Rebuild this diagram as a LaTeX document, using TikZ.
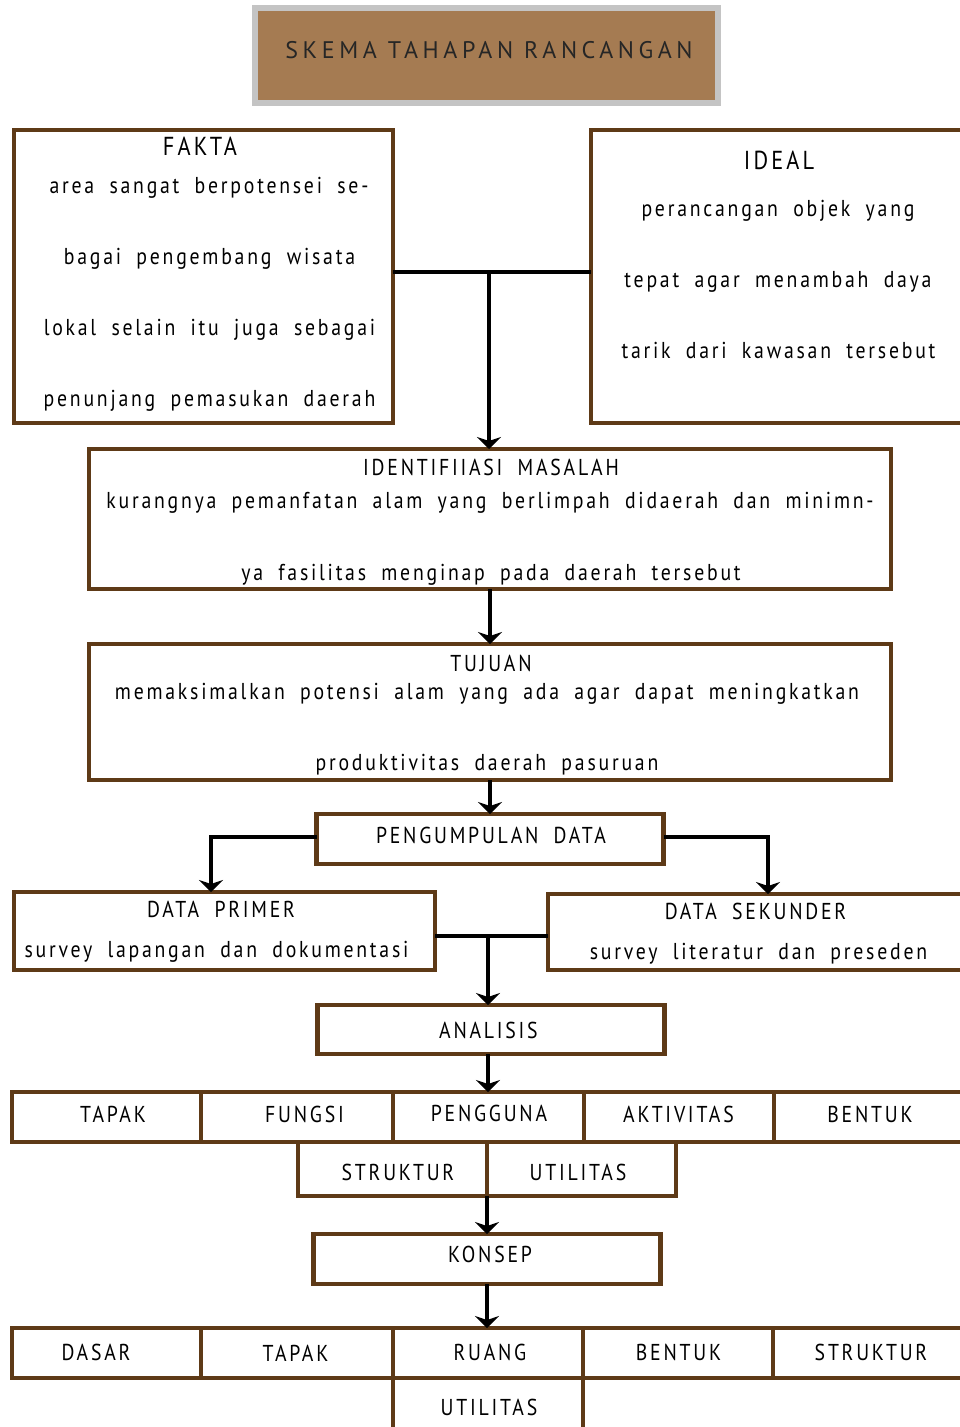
\documentclass[tikz,border=0pt]{standalone}
\usepackage{fontspec}
\setmainfont{PT Sans}[LetterSpace=12, FakeStretch=0.86, WordSpace=1.9]
\newfontfamily\titlefnt{PT Sans}[LetterSpace=19]
\usetikzlibrary{arrows.meta}
\definecolor{brownline}{HTML}{5E3A17}
\definecolor{titlefill}{HTML}{A57B52}
\definecolor{titlegray}{HTML}{C4C4C4}
\tikzset{
  box/.style={draw=brownline, line width=4.5pt, fill=white, inner sep=0pt, outer sep=0pt},
  txt/.style={anchor=base, inner sep=0pt, font=\fontsize{23}{27}\selectfont},
  bigtxt/.style={anchor=base, inner sep=0pt, font=\fontsize{26}{30}\selectfont},
  conn/.style={draw=black, line width=3.5pt},
  arr/.style={conn, -{Stealth[length=12pt,width=24pt,inset=4pt]}},
}
\begin{document}
\begin{tikzpicture}[x=1pt,y=-1pt]
\useasboundingbox (0,0) rectangle (960,1427);
\clip (0,0) rectangle (960,1427);
\fill[white] (0,0) rectangle (960,1427);
% title
\node[draw=titlegray, line width=5.5pt, fill=titlefill, minimum width=463pt, minimum height=95pt, inner sep=0pt] (title) at (486.5,55.5) {};
\node[anchor=base, inner sep=0pt, font=\titlefnt\fontsize{24}{28}\selectfont, text=black!85] (titletxt) at (489,58) {SKEMA TAHAPAN RANCANGAN};
% FAKTA / IDEAL
\node[box, minimum width=379pt, minimum height=293pt] (fakta) at (203.5,276.5) {};
\node[box, minimum width=379pt, minimum height=293pt] (ideal) at (780.5,276.5) {};
\node[bigtxt] (fk0) at (200,155) {FAKTA};
\node[txt] (fk1) at (209,193) {area sangat berpotensei se-};
\node[txt] (fk2) at (209.5,264) {bagai pengembang wisata};
\node[txt] (fk3) at (209.5,335) {lokal selain itu juga sebagai};
\node[txt] (fk4) at (209.5,406) {penunjang pemasukan daerah};
\node[bigtxt] (id0) at (779,169) {IDEAL};
\node[txt] (id1) at (778,216) {perancangan objek yang};
\node[txt] (id2) at (778,287) {tepat agar menambah daya};
\node[txt] (id3) at (778.5,358) {tarik dari kawasan tersebut};
% identifikasi
\node[box, minimum width=802pt, minimum height=140pt] (ident) at (490,519) {};
\node[txt] (ik0) at (491,475) {IDENTIFIIASI MASALAH};
\node[txt] (ik1) at (490,508) {kurangnya pemanfatan alam yang berlimpah didaerah dan minimn-};
\node[txt] (ik2) at (491,580) {ya fasilitas menginap pada daerah tersebut};
% tujuan
\node[box, minimum width=802pt, minimum height=136pt] (tujuan) at (490,712) {};
\node[txt] (tj0) at (491,671) {TUJUAN};
\node[txt] (tj1) at (487,699) {memaksimalkan potensi alam yang ada agar dapat meningkatkan};
\node[txt] (tj2) at (487,770) {produktivitas daerah pasuruan};
% pengumpulan
\node[box, minimum width=347pt, minimum height=50pt] (kumpul) at (490,839) {};
\node[txt] (kp0) at (491,843) {PENGUMPULAN DATA};
% data primer / sekunder
\node[box, minimum width=421pt, minimum height=78pt] (primer) at (224.5,931) {};
\node[txt] (pr0) at (221,917) {DATA PRIMER};
\node[txt] (pr1) at (216.5,957) {survey lapangan dan dokumentasi};
\node[box, minimum width=422pt, minimum height=76pt] (sekunder) at (759,932) {};
\node[txt] (sk0) at (755.5,919) {DATA SEKUNDER};
\node[txt] (sk1) at (758.5,959) {survey literatur dan preseden};
% analisis
\node[box, minimum width=347pt, minimum height=49pt] (analisis) at (491,1029.5) {};
\node[txt] (an0) at (488.5,1038) {ANALISIS};
% row 1
\node[box, minimum width=189pt, minimum height=50pt] (r1a) at (106.5,1117) {};
\node[box, minimum width=192pt, minimum height=50pt] (r1b) at (297,1117) {};
\node[box, minimum width=191pt, minimum height=50pt] (r1c) at (488.5,1117) {};
\node[box, minimum width=190pt, minimum height=50pt] (r1d) at (679,1117) {};
\node[box, minimum width=196pt, minimum height=50pt] (r1e) at (872,1117) {};
\node[txt] (t1a) at (113,1122) {TAPAK};
\node[txt] (t1b) at (304.5,1122) {FUNGSI};
\node[txt] (t1c) at (489,1121) {PENGGUNA};
\node[txt] (t1d) at (678.5,1122) {AKTIVITAS};
\node[txt] (t1e) at (870,1122) {BENTUK};
% row 2
\node[box, minimum width=189pt, minimum height=54pt] (r2a) at (392.5,1169) {};
\node[box, minimum width=189pt, minimum height=54pt] (r2b) at (581.5,1169) {};
\node[txt] (t2a) at (398,1180) {STRUKTUR};
\node[txt] (t2b) at (578,1180) {UTILITAS};
% konsep
\node[box, minimum width=347pt, minimum height=50pt] (konsep) at (487,1259) {};
\node[txt] (ks0) at (490,1262) {KONSEP};
% row 3
\node[box, minimum width=189pt, minimum height=50pt] (r3a) at (106.5,1353) {};
\node[box, minimum width=192pt, minimum height=50pt] (r3b) at (297,1353) {};
\node[box, minimum width=190pt, minimum height=50pt] (r3c) at (488,1353) {};
\node[box, minimum width=190pt, minimum height=50pt] (r3d) at (678,1353) {};
\node[box, minimum width=197pt, minimum height=50pt] (r3e) at (871.5,1353) {};
\node[box, minimum width=190pt, minimum height=64pt] (r4) at (488,1410) {};
\node[txt] (t3a) at (96,1360) {DASAR};
\node[txt] (t3b) at (295.5,1361) {TAPAK};
\node[txt] (t3c) at (490,1360) {RUANG};
\node[txt] (t3d) at (678.5,1360) {BENTUK};
\node[txt] (t3e) at (871,1360) {STRUKTUR};
\node[txt] (t4) at (489,1415) {UTILITAS};
% connectors
\coordinate (j1) at (489,272);
\draw[conn] (fakta.east |- j1) -- (ideal.west |- j1);
\draw[arr] (j1) -- (j1 |- ident.north);
\draw[arr] (ident.south) -- (tujuan.north);
\draw[arr] (tujuan.south) -- (kumpul.north);
\coordinate (kl) at (211,837);
\coordinate (kr) at (768,837);
\draw[arr] (kumpul.west |- kl) -- (kl) -- (kl |- primer.north);
\draw[arr] (kumpul.east |- kr) -- (kr) -- (kr |- sekunder.north);
\coordinate (j2) at (488,936);
\draw[conn] (primer.east |- j2) -- (sekunder.west |- j2);
\draw[arr] (j2) -- (j2 |- analisis.north);
\draw[arr] (j2 |- analisis.south) -- (j2 |- r1c.north);
\draw[arr] (r2a.south east) -- (r2a.south east |- konsep.north);
\draw[arr] (konsep.south) -- (konsep.south |- r3c.north);
\end{tikzpicture}
\end{document}
